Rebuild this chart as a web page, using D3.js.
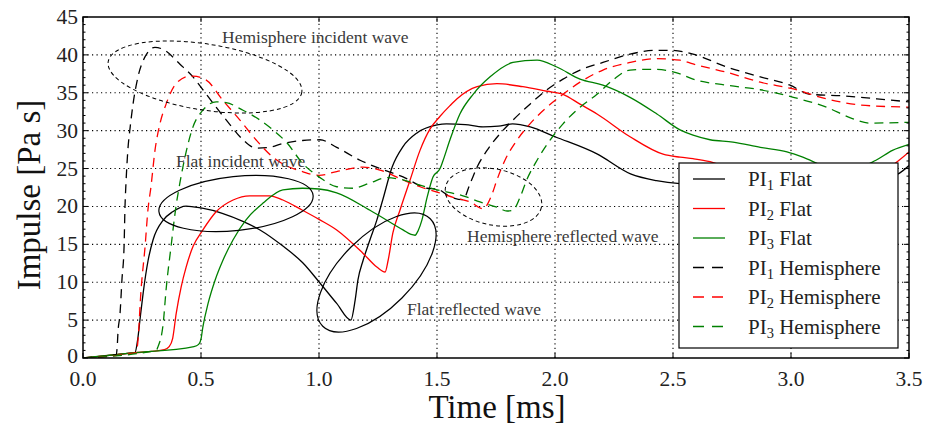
<!DOCTYPE html>
<html>
<head>
<meta charset="utf-8">
<script src="https://cdn.jsdelivr.net/npm/d3@7"></script>
<style>
  html, body { margin: 0; padding: 0; background: #fff; }
  svg { display: block; }
  text { font-family: "Liberation Serif", "DejaVu Serif", serif; }
</style>
</head>
<body>
<svg id="chart" width="927" height="433"></svg>
<script>
// Impulse histories (time in ms, impulse in Pa s)
const timePI1Flat = [0, 0.10, 0.20, 0.22, 0.232, 0.243, 0.255, 0.276, 0.297, 0.34, 0.38, 0.437, 0.50, 0.59, 0.68, 0.75, 0.85, 0.93, 1.004, 1.075, 1.135, 1.153, 1.165, 1.187, 1.216, 1.245, 1.27, 1.31, 1.356, 1.415, 1.50, 1.54, 1.62, 1.695, 1.76, 1.82, 1.895, 2.0, 2.18, 2.32, 2.43, 2.53, 2.70, 2.90, 3.10, 3.30, 3.42, 3.46, 3.50];
const impulsePI1Flat = [0, 0.32, 0.64, 0.70, 2.5, 5.5, 8.6, 12.9, 15.6, 18.2, 19.3, 20.05, 19.8, 19.1, 18.0, 16.9, 14.7, 12.6, 9.9, 7.2, 5.0, 7.6, 10.3, 12.9, 15.6, 18.2, 20.85, 25.2, 27.9, 29.7, 30.75, 30.9, 30.8, 30.5, 30.6, 30.9, 30.5, 29.2, 26.9, 24.3, 23.4, 23.0, 22.8, 22.5, 22.2, 22.3, 23.8, 24.4, 25.4];

const timePI2Flat = [0, 0.20, 0.345, 0.365, 0.38, 0.395, 0.416, 0.437, 0.466, 0.508, 0.564, 0.636, 0.707, 0.79, 0.847, 0.93, 1.0, 1.075, 1.187, 1.245, 1.28, 1.293, 1.313, 1.343, 1.386, 1.428, 1.47, 1.513, 1.555, 1.585, 1.67, 1.754, 1.864, 1.966, 2.034, 2.106, 2.178, 2.318, 2.458, 2.53, 2.585, 2.657, 2.70, 2.90, 3.10, 3.30, 3.40, 3.458, 3.50];
const impulsePI2Flat = [0, 0.64, 1.1, 1.5, 2.6, 5.9, 9.4, 12.0, 14.7, 16.9, 19.3, 20.85, 21.4, 21.4, 20.85, 19.5, 18.3, 16.9, 13.8, 12.0, 11.35, 12.9, 16.5, 19.5, 23.5, 27.4, 30.2, 31.9, 33.3, 34.2, 35.8, 36.2, 35.8, 35.2, 34.8, 33.5, 32.2, 29.2, 26.9, 26.5, 26.3, 25.9, 25.5, 24.6, 24.0, 23.8, 24.8, 26.1, 27.2];

const timePI3Flat = [0, 0.20, 0.47, 0.49, 0.50, 0.508, 0.53, 0.56, 0.593, 0.636, 0.69, 0.763, 0.847, 0.93, 1.0, 1.075, 1.216, 1.356, 1.39, 1.407, 1.42, 1.436, 1.458, 1.483, 1.513, 1.525, 1.555, 1.597, 1.653, 1.725, 1.822, 1.924, 2.008, 2.106, 2.203, 2.318, 2.432, 2.53, 2.585, 2.657, 2.754, 2.87, 2.983, 3.05, 3.15, 3.25, 3.36, 3.43, 3.50];
const impulsePI3Flat = [0, 0.64, 1.5, 1.8, 2.5, 4.1, 7.2, 10.3, 12.9, 15.6, 18.2, 20.45, 22.2, 22.4, 22.3, 21.8, 19.5, 16.9, 16.3, 16.2, 16.8, 18.2, 21.2, 23.9, 25.0, 26.0, 28.8, 32.2, 34.8, 37.1, 39.0, 39.3, 38.4, 36.8, 36.0, 34.4, 32.2, 30.1, 29.4, 28.8, 28.5, 27.8, 27.2, 26.5, 25.2, 24.8, 26.1, 27.4, 28.2];

const timePI1Hemi = [0, 0.14, 0.145, 0.148, 0.157, 0.165, 0.174, 0.178, 0.182, 0.19, 0.20, 0.212, 0.233, 0.262, 0.305, 0.347, 0.41, 0.466, 0.508, 0.564, 0.62, 0.678, 0.733, 0.79, 0.847, 0.93, 1.004, 1.075, 1.174, 1.258, 1.356, 1.458, 1.50, 1.555, 1.61, 1.64, 1.67, 1.712, 1.767, 1.822, 1.894, 1.966, 2.034, 2.106, 2.203, 2.318, 2.432, 2.487, 2.585, 2.728, 2.87, 2.996, 3.08, 3.22, 3.364, 3.50];
const impulsePI1Hemi = [0, 0.45, 1.5, 3.3, 5.9, 10.3, 14.7, 20.0, 23.0, 27.4, 30.5, 33.5, 37.1, 39.7, 41.0, 40.6, 38.8, 37.1, 35.4, 33.1, 30.9, 28.8, 27.7, 27.8, 28.3, 28.7, 28.8, 27.8, 26.1, 25.0, 23.9, 22.4, 22.3, 21.3, 20.9, 23.0, 25.2, 27.4, 29.6, 31.4, 33.5, 35.4, 36.8, 38.0, 39.0, 40.1, 40.6, 40.6, 40.1, 38.4, 37.1, 36.0, 34.8, 34.6, 34.2, 33.8];

const timePI2Hemi = [0, 0.225, 0.232, 0.246, 0.263, 0.275, 0.288, 0.305, 0.326, 0.352, 0.394, 0.453, 0.466, 0.521, 0.593, 0.665, 0.733, 0.805, 0.847, 0.93, 1.0, 1.075, 1.187, 1.258, 1.356, 1.428, 1.50, 1.568, 1.64, 1.695, 1.733, 1.754, 1.788, 1.84, 1.894, 1.966, 2.034, 2.106, 2.203, 2.318, 2.432, 2.53, 2.585, 2.728, 2.87, 3.01, 3.15, 3.29, 3.50];
const impulsePI2Hemi = [0, 0.72, 2.0, 9.0, 14.7, 19.5, 22.6, 27.4, 30.9, 33.5, 36.2, 37.2, 37.2, 36.7, 34.0, 31.4, 28.8, 26.5, 25.6, 24.6, 24.1, 24.6, 25.2, 24.8, 23.5, 22.6, 21.9, 21.2, 20.6, 19.7, 21.6, 23.5, 26.1, 28.8, 30.9, 33.1, 34.8, 36.4, 38.0, 39.0, 39.5, 39.3, 38.8, 37.7, 36.4, 35.5, 34.2, 33.4, 33.1];

const timePI3Hemi = [0, 0.31, 0.318, 0.34, 0.352, 0.373, 0.394, 0.41, 0.432, 0.466, 0.508, 0.564, 0.606, 0.678, 0.75, 0.805, 0.864, 0.93, 1.0, 1.075, 1.144, 1.216, 1.288, 1.356, 1.428, 1.50, 1.61, 1.682, 1.754, 1.797, 1.822, 1.852, 1.88, 1.924, 1.98, 2.034, 2.106, 2.178, 2.246, 2.318, 2.415, 2.53, 2.585, 2.728, 2.87, 3.01, 3.15, 3.26, 3.335, 3.50];
const impulsePI3Hemi = [0, 1.0, 1.5, 4.6, 9.0, 14.7, 20.0, 23.0, 26.5, 30.5, 32.7, 33.8, 33.7, 32.7, 31.4, 30.1, 28.4, 25.7, 23.9, 22.6, 22.4, 23.1, 23.8, 23.5, 22.8, 22.2, 21.4, 20.6, 19.9, 19.4, 19.5, 21.2, 23.5, 26.1, 28.8, 30.9, 33.1, 34.8, 36.7, 38.0, 38.1, 37.5, 36.8, 36.0, 35.4, 34.4, 33.1, 31.6, 31.0, 31.1];

const xTicks = [0.0, 0.5, 1.0, 1.5, 2.0, 2.5, 3.0, 3.5];
const yTicks = [0, 5, 10, 15, 20, 25, 30, 35, 40, 45];
const seriesNames = ["PI1 Flat", "PI2 Flat", "PI3 Flat", "PI1 Hemisphere", "PI2 Hemisphere", "PI3 Hemisphere"];

const series = [
  { name: seriesNames[0], t: timePI1Flat, v: impulsePI1Flat, color: "#000000", dashed: false },
  { name: seriesNames[1], t: timePI2Flat, v: impulsePI2Flat, color: "#ff0000", dashed: false },
  { name: seriesNames[2], t: timePI3Flat, v: impulsePI3Flat, color: "#008000", dashed: false },
  { name: seriesNames[3], t: timePI1Hemi, v: impulsePI1Hemi, color: "#000000", dashed: true },
  { name: seriesNames[4], t: timePI2Hemi, v: impulsePI2Hemi, color: "#ff0000", dashed: true },
  { name: seriesNames[5], t: timePI3Hemi, v: impulsePI3Hemi, color: "#008000", dashed: true }
];

const svg = d3.select("#chart");
const margin = { left: 83, right: 18, top: 17, bottom: 75 };
const W = 927, H = 433;
const x = d3.scaleLinear().domain([0, 3.5]).range([margin.left, W - margin.right]);
const y = d3.scaleLinear().domain([0, 45]).range([H - margin.bottom, margin.top]);
const x0 = x.range()[0], x1 = x.range()[1], y0 = y.range()[0], y1 = y.range()[1];

svg.append("rect").attr("width", W).attr("height", H).attr("fill", "#fff");

svg.append("defs").append("clipPath").attr("id", "plot")
  .append("rect").attr("x", x0).attr("y", y1).attr("width", x1 - x0).attr("height", y0 - y1);

// dotted grid
const grid = svg.append("g");
grid.selectAll(".gx").data(xTicks.slice(1, -1)).join("line")
  .attr("x1", d => x(d)).attr("x2", d => x(d)).attr("y1", y0).attr("y2", y1)
  .attr("stroke", "#000").attr("stroke-width", 1.1).attr("stroke-dasharray", "1.2,3.3");
grid.selectAll(".gy").data(yTicks.slice(1, -1)).join("line")
  .attr("y1", d => y(d)).attr("y2", d => y(d)).attr("x1", x0).attr("x2", x1)
  .attr("stroke", "#000").attr("stroke-width", 1.1).attr("stroke-dasharray", "1.2,3.3");

// curves
const line = d3.line().x(d => x(d[0])).y(d => y(d[1])).curve(d3.curveMonotoneX);
const curves = svg.append("g").attr("clip-path", "url(#plot)");
series.forEach(s => {
  const pts = s.t.map((t, i) => [t, s.v[i]]);
  curves.append("path").datum(pts).attr("d", line)
    .attr("fill", "none").attr("stroke", s.color).attr("stroke-width", 1.3)
    .attr("stroke-dasharray", s.dashed ? "9,6" : null);
});

// annotation ellipses
const notes = svg.append("g").attr("fill", "none").attr("stroke", "#000");
notes.append("ellipse").attr("transform", "translate(205,77) rotate(9)")
  .attr("rx", 98).attr("ry", 33).attr("stroke-width", 1).attr("stroke-dasharray", "4,3");
notes.append("ellipse").attr("transform", "translate(236,203.5) rotate(-6)")
  .attr("rx", 77.5).attr("ry", 27).attr("stroke-width", 1.2);
notes.append("ellipse").attr("transform", "translate(376.5,272.5) rotate(-45)")
  .attr("rx", 76).attr("ry", 36).attr("stroke-width", 1.2);
notes.append("ellipse").attr("transform", "translate(493.5,197) rotate(12)")
  .attr("rx", 49).attr("ry", 28).attr("stroke-width", 1).attr("stroke-dasharray", "4,3");

const noteText = svg.append("g").attr("fill", "#3a3a3a").attr("font-size", 17.5);
noteText.append("text").attr("x", 222).attr("y", 43).text("Hemisphere incident wave");
noteText.append("text").attr("x", 176).attr("y", 167).text("Flat incident wave");
noteText.append("text").attr("x", 467).attr("y", 242).text("Hemisphere reflected wave");
noteText.append("text").attr("x", 407).attr("y", 315).text("Flat reflected wave");

// frame and ticks (inward, on all sides)
const ticks = svg.append("g").attr("stroke", "#000").attr("stroke-width", 1);
xTicks.forEach(d => {
  ticks.append("line").attr("x1", x(d)).attr("x2", x(d)).attr("y1", y0).attr("y2", y0 - 5);
  ticks.append("line").attr("x1", x(d)).attr("x2", x(d)).attr("y1", y1).attr("y2", y1 + 5);
});
yTicks.forEach(d => {
  ticks.append("line").attr("y1", y(d)).attr("y2", y(d)).attr("x1", x0).attr("x2", x0 + 5);
  ticks.append("line").attr("y1", y(d)).attr("y2", y(d)).attr("x1", x1).attr("x2", x1 - 5);
});
d3.range(0, 46, 1).filter(v => v % 5 !== 0).forEach(d => {
  ticks.append("line").attr("y1", y(d)).attr("y2", y(d)).attr("x1", x0).attr("x2", x0 + 2.5);
  ticks.append("line").attr("y1", y(d)).attr("y2", y(d)).attr("x1", x1).attr("x2", x1 - 2.5);
});
svg.append("rect").attr("x", x0).attr("y", y1).attr("width", x1 - x0).attr("height", y0 - y1)
  .attr("fill", "none").attr("stroke", "#000").attr("stroke-width", 1.5);

// tick labels
const tl = svg.append("g").attr("fill", "#222").attr("font-size", 21.5);
tl.selectAll(".xl").data(xTicks).join("text")
  .attr("x", d => x(d)).attr("y", 386).attr("text-anchor", "middle").text(d => d.toFixed(1));
tl.selectAll(".yl").data(yTicks).join("text")
  .attr("x", 78).attr("y", d => y(d) + (d === 0 ? 5 : 7)).attr("text-anchor", "end").text(d => d);

// axis titles
svg.append("text").attr("x", 497).attr("y", 418).attr("text-anchor", "middle")
  .attr("font-size", 33).attr("fill", "#111").text("Time [ms]");
svg.append("text").attr("transform", "translate(39.5,195) rotate(-90)").attr("text-anchor", "middle")
  .attr("font-size", 33).attr("fill", "#111").text("Impulse [Pa s]");

// legend
const lg = svg.append("g");
lg.append("rect").attr("x", 679).attr("y", 163).attr("width", 219).attr("height", 185)
  .attr("fill", "#fff").attr("stroke", "#000").attr("stroke-width", 1.2);
series.forEach((s, i) => {
  const cy = 179 + i * 29.5;
  lg.append("line").attr("x1", 693).attr("x2", 725).attr("y1", cy).attr("y2", cy)
    .attr("stroke", s.color).attr("stroke-width", 1.3)
    .attr("stroke-dasharray", s.dashed ? "11,8" : null);
  const parts = s.name.match(/^PI(\d) (.*)$/);
  const t = lg.append("text").attr("x", 748).attr("y", cy + 7).attr("font-size", 21).attr("fill", "#222");
  t.append("tspan").text("PI");
  t.append("tspan").attr("font-size", 14.5).attr("dy", 4).text(parts[1]);
  t.append("tspan").attr("dy", -4).text(" " + parts[2]);
});
</script>
</body>
</html>
